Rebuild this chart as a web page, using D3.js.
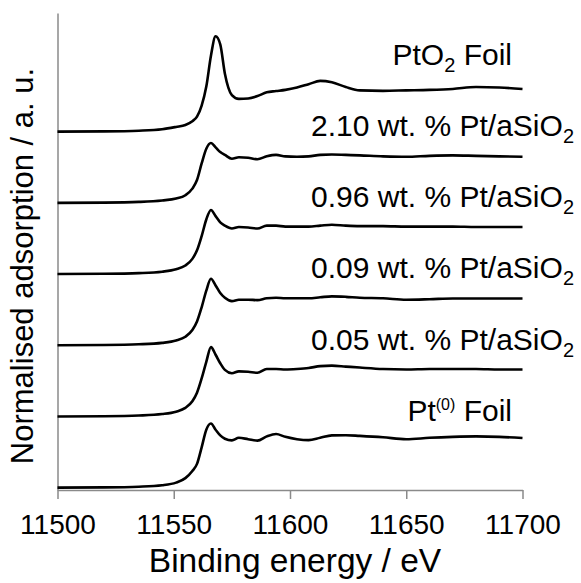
<!DOCTYPE html>
<html>
<head>
<meta charset="utf-8">
<script src="https://cdn.jsdelivr.net/npm/d3@7"></script>
<style>
  body { margin: 0; background: #fff; }
  svg { display: block; }
  text { font-family: "Liberation Sans", Arial, sans-serif; fill: #000; }
</style>
</head>
<body>
<svg id="chart" width="581" height="583"></svg>
<script>
// Pt L3-edge XANES spectra, normalised and stacked
const energy = [11500, 11520, 11535, 11545, 11551, 11555, 11558, 11560, 11562, 11564,
                11566, 11568, 11570, 11572, 11575, 11578, 11582, 11586, 11590, 11594,
                11598, 11603, 11608, 11613, 11618, 11624, 11630, 11640, 11650, 11660,
                11670, 11680, 11690, 11700];

const pt0Foil = [0, 0.005, 0.02, 0.05, 0.105, 0.2, 0.35, 0.5, 0.85, 1.22,
                 1.35, 1.22, 1.1, 1.03, 0.995, 1.05, 1.02, 0.99, 1.08, 1.13,
                 1.07, 1.02, 1.0, 1.05, 1.1, 1.105, 1.09, 1.06, 1.02, 1.05,
                 1.07, 1.08, 1.07, 1.044];
const ptSiO2_005 = [0, 0.005, 0.02, 0.05, 0.1, 0.18, 0.32, 0.5, 0.8, 1.15,
                    1.46, 1.3, 1.12, 0.98, 0.91, 0.95, 0.94, 0.92, 1.0, 1.0,
                    0.99, 1.0, 1.02, 1.06, 1.07, 1.05, 1.03, 1.0, 0.99, 1.0,
                    1.0, 1.0, 0.99, 0.99];
const ptSiO2_009 = [0, 0.005, 0.02, 0.05, 0.1, 0.18, 0.32, 0.5, 0.8, 1.15,
                    1.4, 1.26, 1.1, 1.0, 0.93, 0.96, 0.96, 0.95, 0.99, 1.0,
                    0.99, 0.99, 0.99, 1.01, 1.03, 1.02, 1.0, 0.99, 0.96, 0.97,
                    0.985, 0.985, 0.985, 0.985];
const ptSiO2_096 = [0, 0.005, 0.02, 0.05, 0.1, 0.18, 0.32, 0.5, 0.8, 1.15,
                    1.35, 1.22, 1.09, 1.02, 0.96, 0.99, 0.98, 0.96, 1.02, 1.02,
                    1.0, 1.0, 1.0, 1.02, 1.04, 1.02, 1.01, 1.01, 1.0, 1.0,
                    1.0, 0.99, 0.99, 0.99];
const ptSiO2_210 = [0, 0.005, 0.02, 0.05, 0.09, 0.16, 0.3, 0.48, 0.83, 1.14,
                    1.26, 1.17, 1.07, 1.01, 0.93, 0.96, 0.95, 0.92, 0.98, 1.01,
                    0.98, 0.97, 0.98, 1.01, 1.02, 1.01, 1.0, 0.98, 0.97, 0.99,
                    1.0, 0.99, 0.98, 0.97];
const ptO2Foil = [0, 0.005, 0.02, 0.05, 0.1, 0.14, 0.22, 0.315, 0.55, 0.95,
                  1.6, 2.01, 1.84, 1.22, 0.77, 0.69, 0.7, 0.75, 0.83, 0.855,
                  0.88, 0.93, 1.0, 1.07, 1.04, 0.94, 0.87, 0.86, 0.87, 0.88,
                  0.9, 0.94, 0.93, 0.9];

// bottom to top; each spectrum is lifted by one stacking step
const seriesValues = [pt0Foil, ptSiO2_005, ptSiO2_009, ptSiO2_096, ptSiO2_210, ptO2Foil];
const stackStep = 1.5;

// label pieces: [text, baseline shift]
const seriesLabels = [
  [["Pt", ""], ["(0)", "sup"], [" Foil", ""]],
  [["0.05 wt. % Pt/aSiO", ""], ["2", "sub"]],
  [["0.09 wt. % Pt/aSiO", ""], ["2", "sub"]],
  [["0.96 wt. % Pt/aSiO", ""], ["2", "sub"]],
  [["2.10 wt. % Pt/aSiO", ""], ["2", "sub"]],
  [["PtO", ""], ["2", "sub"], [" Foil", ""]]
];

const xTicks = [11500, 11550, 11600, 11650, 11700];
const xTitle = "Binding energy / eV";
const yTitle = "Normalised adsorption / a. u.";

const svg = d3.select("#chart");
const axisColor = "#8a8a8a";

const x = d3.scaleLinear().domain([11500, 11700]).range([57.5, 522.5]);
const y = d3.scaleLinear().domain([-0.05, 10]).range([490, 13]);

// axes
const xAxis = svg.append("g")
  .attr("transform", `translate(0,${y(-0.05)})`)
  .call(d3.axisBottom(x).tickValues(xTicks).tickFormat(d3.format("d"))
        .tickSize(9).tickSizeOuter(0).tickPadding(15));
xAxis.select(".domain").attr("stroke", axisColor).attr("stroke-width", 1.5);
xAxis.selectAll(".tick line").attr("stroke", axisColor).attr("stroke-width", 1.5);
xAxis.selectAll(".tick text")
  .style("font-family", '"Liberation Sans", Arial, sans-serif')
  .style("font-size", "28px").attr("fill", "#000");

const yAxis = svg.append("g")
  .attr("transform", `translate(${x(11500)},0)`)
  .call(d3.axisLeft(y).tickValues([]).tickSizeOuter(0));
yAxis.select(".domain").attr("stroke", axisColor).attr("stroke-width", 1.5);

// spectra
const line = d3.line()
  .x((d, i) => x(energy[i]))
  .y(d => y(d))
  .curve(d3.curveMonotoneX);

seriesValues.forEach((vals, k) => {
  svg.append("path")
    .datum(vals.map(v => v + k * stackStep))
    .attr("fill", "none")
    .attr("stroke", "#000")
    .attr("stroke-width", 2.6)
    .attr("stroke-linejoin", "round")
    .attr("d", line);
});

// spectrum labels
seriesLabels.forEach((parts, k) => {
  const isFoil = k === 0 || k === seriesLabels.length - 1;
  const t = svg.append("text")
    .attr("x", isFoil ? 512 : 574)
    .attr("y", y(k * stackStep + 1.41))
    .attr("text-anchor", "end")
    .style("font-size", "30px");
  parts.forEach(([txt, shift], i) => {
    const ts = t.append("tspan").text(txt);
    if (shift === "sub") ts.style("font-size", "20px").attr("dy", 7);
    if (shift === "sup") ts.style("font-size", "16px").attr("dy", -11);
    if (shift === "" && i > 0) {
      const prev = parts[i - 1][1];
      if (prev === "sub") ts.attr("dy", -7);
      if (prev === "sup") ts.attr("dy", 11);
    }
  });
});

// axis titles
svg.append("text")
  .attr("x", 295).attr("y", 572)
  .attr("text-anchor", "middle")
  .style("font-size", "33.5px")
  .text(xTitle);

svg.append("text")
  .attr("transform", "rotate(-90)")
  .attr("x", -266).attr("y", 33)
  .attr("text-anchor", "middle")
  .style("font-size", "31px")
  .text(yTitle);
</script>
</body>
</html>
